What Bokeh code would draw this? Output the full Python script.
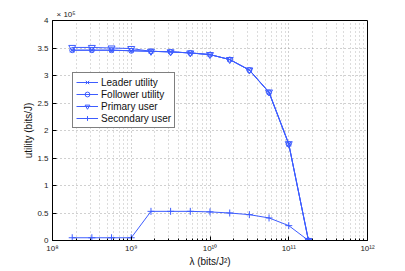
from bokeh.plotting import figure
from bokeh.models import (FixedTicker, CustomJSTickFormatter, Legend, Title)
from bokeh.embed import file_html
from bokeh.resources import INLINE

# data (utility in units of 1e5 bits/J)
lam = [1.78e8, 3.16e8, 5.62e8, 1.0e9, 1.78e9, 3.16e9, 5.62e9, 1.0e10,
       1.78e10, 3.16e10, 5.62e10, 1.0e11, 1.78e11]
leader = [3.46, 3.46, 3.46, 3.45, 3.44, 3.43, 3.41, 3.38, 3.29, 3.10, 2.69, 1.75, 0.0]
follower = [3.46, 3.46, 3.46, 3.45, 3.44, 3.43, 3.41, 3.38, 3.29, 3.10, 2.69, 1.75, 0.0]
primary = [3.51, 3.51, 3.50, 3.49, 3.44, 3.43, 3.41, 3.38, 3.29, 3.10, 2.70, 1.76, 0.0]
secondary = [0.05, 0.05, 0.05, 0.05, 0.53, 0.53, 0.53, 0.52, 0.50, 0.47, 0.41, 0.27, 0.0]
x_ticks = [1e8, 1e9, 1e10, 1e11, 1e12]
x_minor = [m * 10 ** e for e in range(8, 12) for m in range(2, 10)]
y_ticks = [0, 0.5, 1, 1.5, 2, 2.5, 3, 3.5, 4]
labels = ["Leader utility", "Follower utility", "Primary user", "Secondary user"]

FONT = "Liberation Sans"
BLUE = "#3d5cff"

p = figure(frame_width=315, frame_height=220, x_axis_type="log",
           x_range=(1e8, 1e12), y_range=(0, 4),
           output_backend="svg", toolbar_location=None,
           min_border_left=52, min_border_right=30, min_border_top=20, min_border_bottom=23,
           background_fill_color="white", border_fill_color="white")
p.outline_line_color = "black"
p.outline_line_width = 1

fmt_x = CustomJSTickFormatter(code="""
const sup = {'0':'\u2070','1':'\u00b9','2':'\u00b2','3':'\u00b3','4':'\u2074','5':'\u2075','6':'\u2076','7':'\u2077','8':'\u2078','9':'\u2079'};
const e = String(Math.round(Math.log10(tick)));
return '10' + e.split('').map(c => sup[c]).join('');
""")
fmt_y = CustomJSTickFormatter(code="return String(tick);")

xa = p.xaxis[0]
xa.ticker = FixedTicker(ticks=x_ticks, minor_ticks=x_minor)
xa.formatter = fmt_x
ya = p.yaxis[0]
ya.ticker = FixedTicker(ticks=y_ticks)
ya.formatter = fmt_y

for ax in (xa, ya):
    ax.major_tick_in = 4
    ax.major_tick_out = 0
    ax.minor_tick_in = 2
    ax.minor_tick_out = 0
    ax.axis_line_color = "black"
    ax.major_tick_line_color = "black"
    ax.minor_tick_line_color = "black"
    ax.major_label_text_font = FONT
    ax.major_label_text_font_size = "8px"
    ax.major_label_text_color = "#222222"
    ax.axis_label_text_font = FONT
    ax.axis_label_text_font_size = "10px"
    ax.axis_label_text_font_style = "normal"
    ax.axis_label_text_color = "#111111"
xa.major_label_standoff = 3
xa.axis_label_standoff = 0
ya.major_label_standoff = 4
ya.axis_label_standoff = 0
xa.axis_label = "\u03bb (bits/J\u00b2)"
ya.axis_label = "utility (bits/J)"
ya.minor_tick_line_color = None

# grid
for g in (p.xgrid[0], p.ygrid[0]):
    g.grid_line_color = "#a0a0a0"
    g.grid_line_dash = "1 3"
    g.grid_line_width = 1
p.xgrid[0].ticker = FixedTicker(ticks=x_ticks, minor_ticks=x_minor)
p.xgrid[0].minor_grid_line_color = "#b8b8b8"
p.xgrid[0].minor_grid_line_dash = "1 3"
p.ygrid[0].ticker = FixedTicker(ticks=y_ticks)

series = [(leader, "x", 6), (follower, "circle", 5), (primary, "inverted_triangle", 7), (secondary, "cross", 7)]
items = []
for (ys, mk, sz), lab in zip(series, labels):
    r1 = p.line(lam, ys, line_color=BLUE, line_width=1)
    r2 = p.scatter(lam, ys, marker=mk, size=sz, line_color=BLUE, fill_color=None, line_width=1)
    items.append((lab, [r1, r2]))

legend = Legend(items=items, location=(20, 112))
legend.label_text_font = FONT
legend.label_text_font_size = "10px"
legend.label_text_color = "#111111"
legend.label_height = 12
legend.glyph_height = 12
legend.glyph_width = 22
legend.label_standoff = 3
legend.spacing = 0
legend.padding = 3
legend.margin = 0
legend.border_line_color = "black"
legend.border_line_width = 1
legend.background_fill_color = "white"
legend.background_fill_alpha = 1
p.add_layout(legend, "center")

t = Title(text="\u00d7 10\u2075", align="left", offset=4, standoff=3,
          text_font=FONT, text_font_size="8px", text_font_style="normal", text_color="#222222")
p.add_layout(t, "above")

open("out.html", "w").write(file_html(p, INLINE))
